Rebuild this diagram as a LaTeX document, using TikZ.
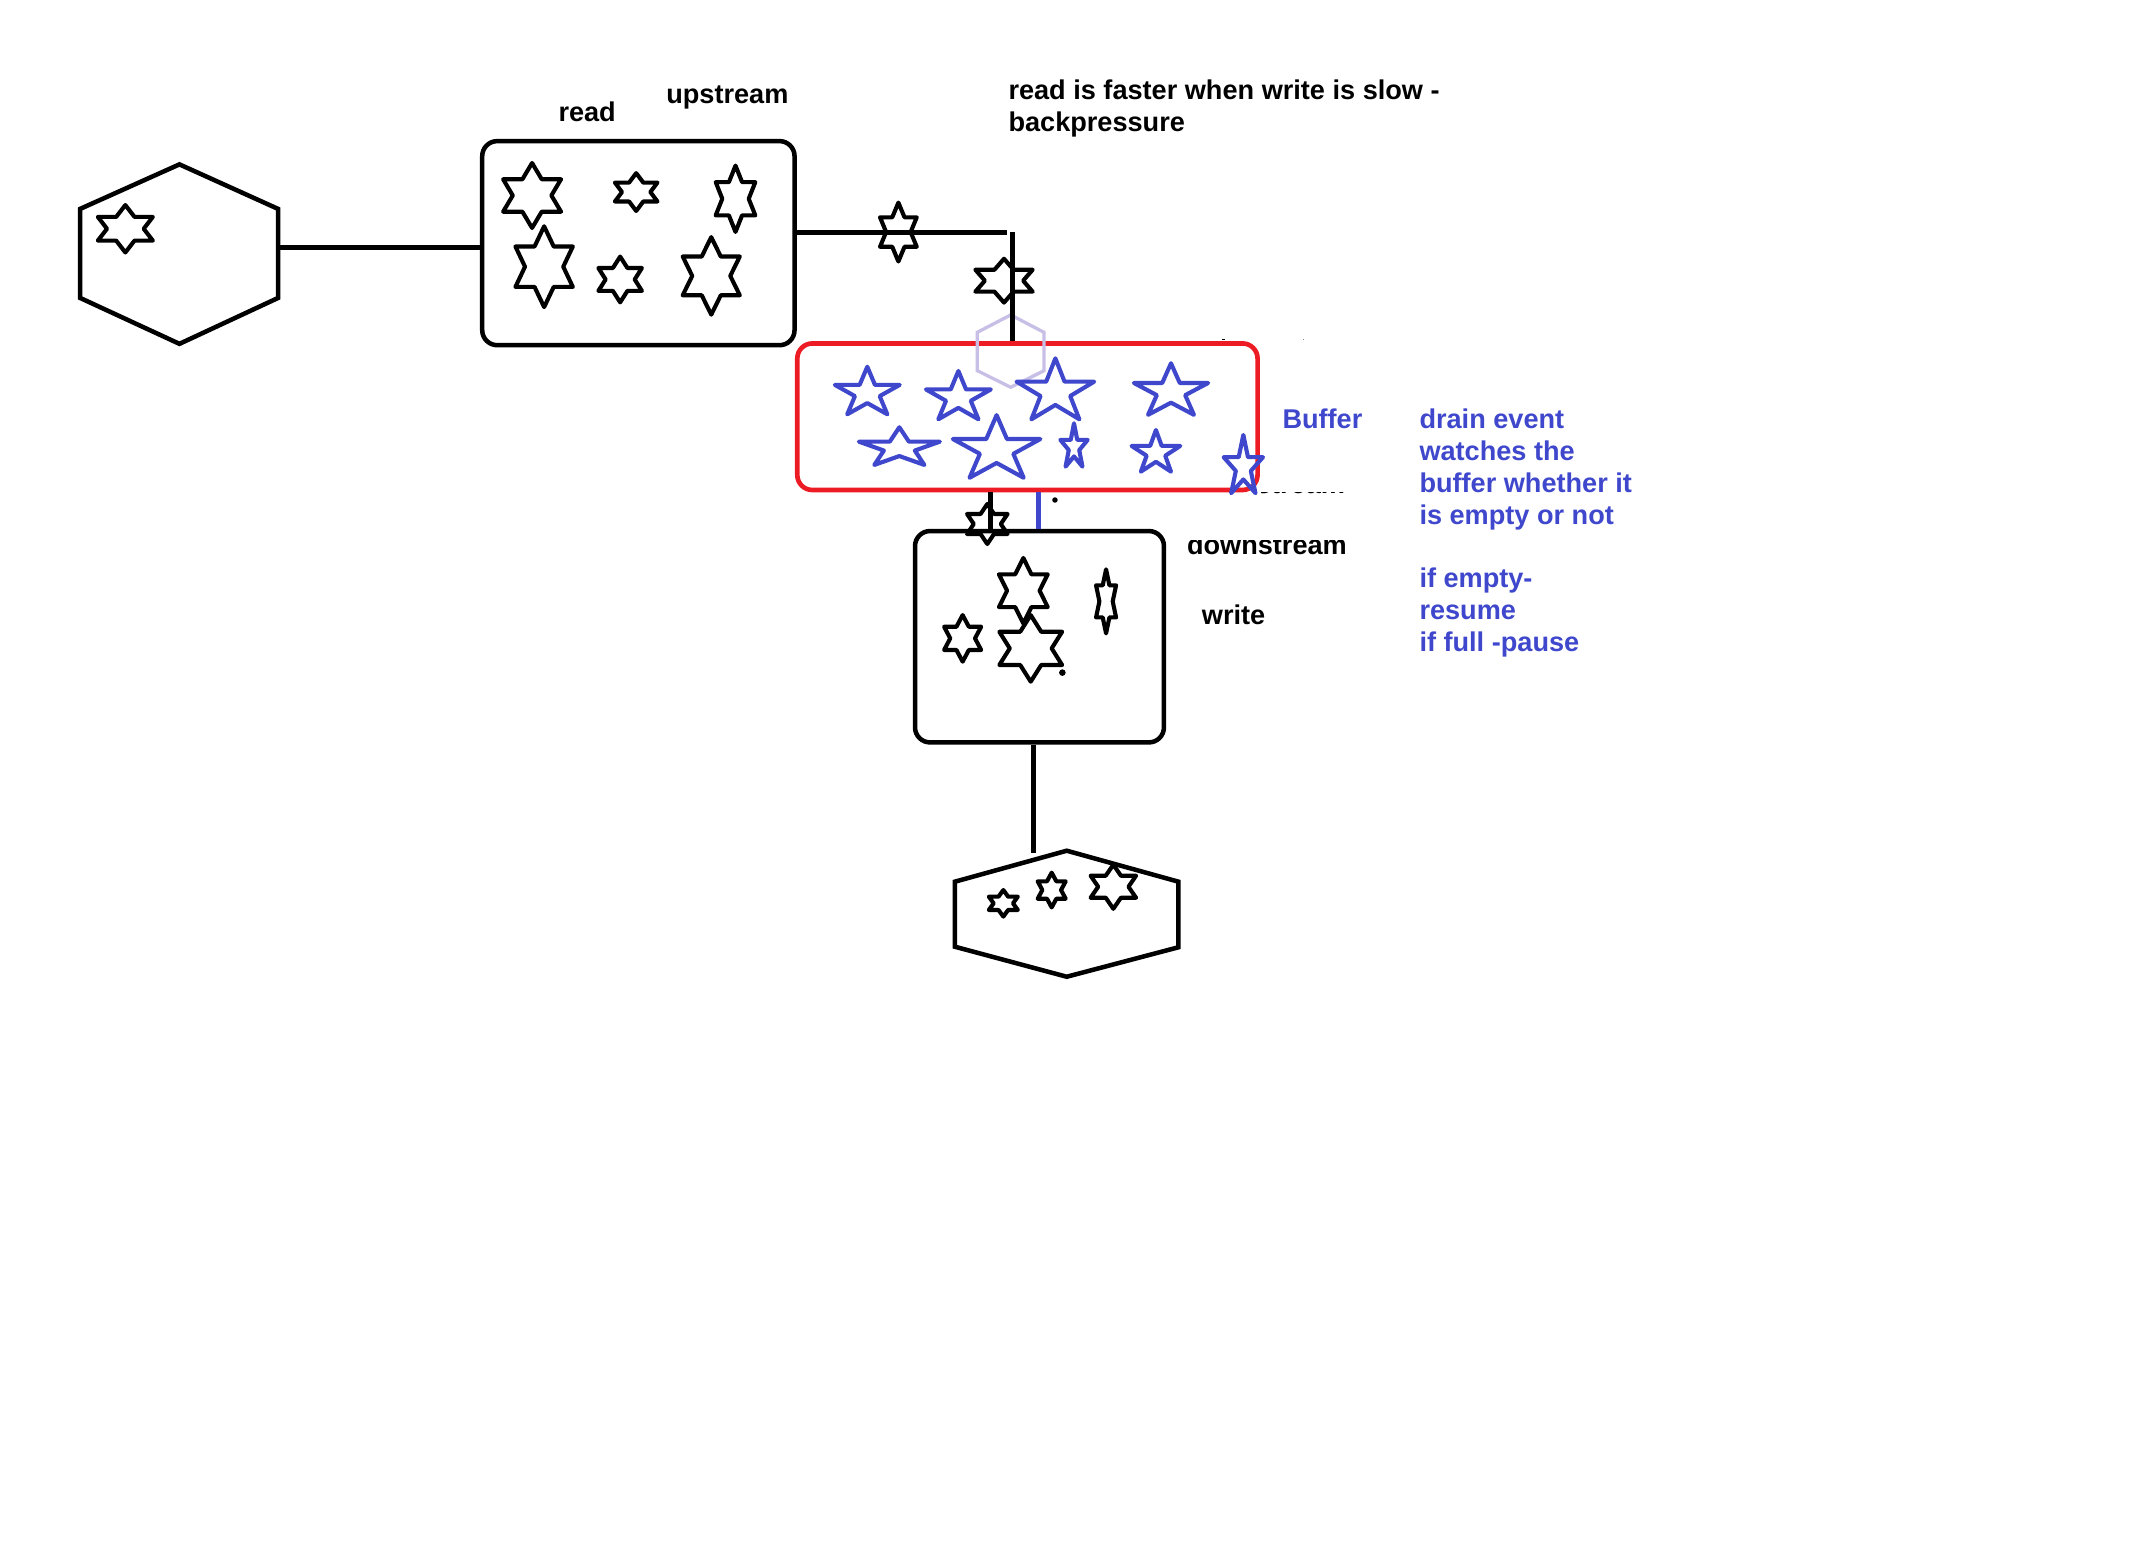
\documentclass[tikz,border=0pt]{standalone}
\usepackage{fontspec}
\setmainfont{Liberation Sans}
\usetikzlibrary{calc}
\definecolor{inkblue}{RGB}{63,72,204}
\definecolor{inkred}{RGB}{237,28,36}
\definecolor{lavender}{RGB}{200,191,231}

% six-pointed outline star: centre x, centre y, vertical radius, width factor
\newcommand{\sixstar}[4]{%
  \pgfmathsetmacro{\hsxr}{#3*#4}%
  \draw[starline, shift={(#1,#2)}, xscale=\hsxr, yscale=#3]
    (90:1) -- (120:0.57735) -- (150:1) -- (180:0.57735) -- (210:1) -- (240:0.57735)
    -- (270:1) -- (300:0.57735) -- (330:1) -- (0:0.57735) -- (30:1) -- (60:0.57735) -- cycle;}

% five-pointed outline star: centre x, centre y, x radius, y radius
\newcommand{\fivestar}[4]{%
  \draw[bluestar, shift={(#1,#2)}, xscale=#3, yscale=#4]
    (-90:1) -- (-54:0.382) -- (-18:1) -- (18:0.382) -- (54:1) -- (90:0.382)
    -- (126:1) -- (162:0.382) -- (198:1) -- (234:0.382) -- cycle;}

\tikzset{
  wire/.style={line width=3.3pt},
  starline/.style={line width=3pt, line join=round},
  bluestar/.style={line width=3pt, draw=inkblue, line join=round},
  box/.style={draw, line width=3.3pt, rounded corners=11pt, inner sep=0pt},
  lbl/.style={font=\fontsize{19.8}{23.3}\selectfont\bfseries, inner sep=0pt, anchor=base west},
  note/.style={lbl, text=inkblue},
}

\begin{document}
\begin{tikzpicture}[x=1pt, y=-1pt]
\useasboundingbox[fill=white] (0,0) rectangle (1568,1131);

% source hexagon
\draw[wire, line join=miter] (131,120) -- (203,152.5) -- (203,217.5) -- (131,251)
  -- (58.5,217.5) -- (58.5,152.5) -- cycle;
\coordinate (srcport) at (203,180.5);
\sixstar{91.5}{167}{17.3}{1.34}

% readable stream (upstream)
\node[box, minimum width=228pt, minimum height=149pt] (readbox) at (466,177.5) {};
\sixstar{388.4}{142.7}{23.7}{1.03}
\sixstar{464.4}{140.2}{13.8}{1.3}
\sixstar{536.9}{145.1}{24.2}{0.69}
\sixstar{397.2}{194.7}{29.5}{0.82}
\sixstar{452.7}{204}{16.7}{1.1}
\sixstar{519.2}{201.4}{28.3}{0.85}

% buffer
\node[box, draw=inkred, line width=3.4pt, minimum width=336pt, minimum height=107pt] (buffer) at (750,304.2) {};
\draw[lavender, line width=2.4pt] (737.8,229.9) -- (762.1,242.6) -- (762.1,270.6)
  -- (737.8,282.7) -- (713.4,270.6) -- (713.4,242.6) -- cycle;

% writable stream (downstream)
\node[box, minimum width=181.7pt, minimum height=154.3pt] (writebox) at (758.8,464.8) {};

% destination hexagon
\draw[wire, line join=miter] (778.7,621) -- (860.2,643.6) -- (860.2,691.5) -- (778.7,713)
  -- (697.1,691.1) -- (697.1,643.6) -- cycle;

% connectors
\coordinate (bend) at (735,169.6);
\coordinate (dropx) at (739,0);
\coordinate (feedx) at (723.2,0);
\coordinate (watchx) at (758,0);
\coordinate (outx) at (754.3,0);
\coordinate (sinkport) at (754.3,623);
\draw[wire] (srcport) -- (srcport -| readbox.west);
\draw[wire] (readbox.east |- bend) -- (bend);
\draw[wire] (bend -| dropx) -- (buffer.north -| dropx);
\draw[wire] (buffer.south -| feedx) -- (writebox.north -| feedx);
\draw[wire, inkblue] (buffer.south -| watchx) -- (writebox.north -| watchx);
\draw[wire] (writebox.south -| outx) -- (sinkport);

% chunks travelling along the pipe
\sixstar{655.8}{169.4}{21.5}{0.72}
\sixstar{732.9}{204.9}{16}{1.51}
\sixstar{720.7}{382.5}{14.6}{1.17}

% chunks held in the buffer
\fivestar{633.1}{286.9}{24.9}{19.2}
\fivestar{699.6}{290.3}{24.9}{19.5}
\fivestar{770.4}{286.2}{29.8}{24.6}
\fivestar{854.8}{286.0}{28.5}{20.8}
\fivestar{656.5}{327.1}{31.1}{15.2}
\fivestar{727.5}{328.3}{33.6}{25.3}
\fivestar{784.0}{326.5}{10.5}{17.5}
\fivestar{843.8}{330.7}{18.7}{16.8}
\fivestar{907.6}{341.0}{15.1}{23.5}

% chunks in the writable stream
\sixstar{747}{431.2}{23.9}{0.86}
\sixstar{752.4}{473.3}{24.3}{1.09}
\sixstar{702.7}{466}{17}{0.92}
\sixstar{807.4}{439}{23.4}{0.36}

% chunks at the destination
\sixstar{732.4}{659.4}{9.7}{1.26}
\sixstar{767.7}{649.7}{12.7}{0.93}
\sixstar{812.7}{647.3}{16.1}{1.19}

% stray dots
\fill (770.1,365) circle (2pt);
\fill (775.5,491) circle (2.4pt);
\fill (892,247.2) rectangle (894.5,248.4);
\fill[gray] (951,247.3) rectangle (952.2,248.3);

% labels
\node[lbl] (lread) at (407.5,88.8) {read};
\node[lbl] (lup) at (486.2,75.4) {upstream};
\node[lbl] (lnote1) at (736,73) {read is faster when write is slow -};
\node[lbl] (lnote2) at (736,96.1) {backpressure};
\node[lbl] (lwrite) at (877.2,456.2) {write};
\begin{scope}
  \clip (850,394.5) rectangle (1000,415);
  \node[lbl] (ldown) at (866.3,405.1) {downstream};
\end{scope}
\begin{scope}
  \clip (921,359.2) rectangle (995,362);
  \node[lbl] (ldownold) at (865,360.6) {downstream};
\end{scope}

\node[note] (lbuf) at (936,312.7) {Buffer};
\node[note] (d1) at (1036,312.7) {drain event};
\node[note] (d2) at (1036,336.0) {watches the};
\node[note] (d3) at (1036,359.3) {buffer whether it};
\node[note] (d4) at (1036,382.6) {is empty or not};
\node[note] (d5) at (1036,429.2) {if empty-};
\node[note] (d6) at (1036,452.5) {resume};
\node[note] (d7) at (1036,475.8) {if full -pause};
\end{tikzpicture}
\end{document}
